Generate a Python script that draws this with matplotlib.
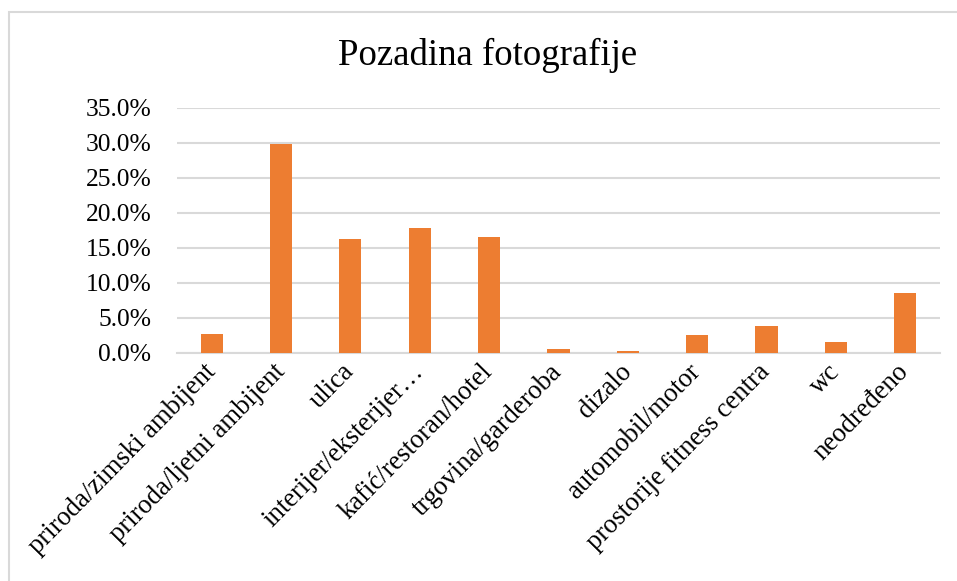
import matplotlib.pyplot as plt
from matplotlib.ticker import PercentFormatter
from matplotlib.patches import Rectangle

categories = ["priroda/zimski ambijent", "priroda/ljetni ambijent", "ulica",
              "interijer/eksterijer…", "kafić/restoran/hotel", "trgovina/garderoba",
              "dizalo", "automobil/motor", "prostorije fitness centra", "wc",
              "neodređeno"]
shares = [2.7, 29.8, 16.2, 17.8, 16.5, 0.5, 0.25, 2.5, 3.8, 1.5, 8.5]
y_ticks = [0, 5, 10, 15, 20, 25, 30, 35]

plt.rcParams["font.family"] = ["Liberation Serif", "DejaVu Serif"]

fig = plt.figure(figsize=(9.57, 5.81), dpi=100)
ax = fig.add_axes([0.185, 0.393, 0.797, 0.4215])

x = range(len(categories))
ax.bar(x, shares, width=0.32, color="#ED7D31", zorder=3)

ax.set_ylim(0, 35)
ax.set_xlim(-0.5, len(categories) - 0.5)
ax.set_yticks(y_ticks)
ax.yaxis.set_major_formatter(PercentFormatter(decimals=1))
ax.grid(axis="y", color="#D9D9D9", linewidth=1.5, zorder=0)
ax.tick_params(axis="y", length=0, pad=18.5, labelsize=18.4)
ax.tick_params(axis="x", length=0, pad=11)
ax.set_xticks(list(x))
ax.set_xticklabels(categories, rotation=45.5, ha="right", va="center",
                   rotation_mode="anchor", fontsize=19.2)
for side in ["top", "right", "left"]:
    ax.spines[side].set_visible(False)
ax.spines["bottom"].set_color("#D9D9D9")
ax.spines["bottom"].set_linewidth(1.5)

fig.text(488 / 957, 1 - 55 / 581, "Pozadina fotografije", ha="center",
         va="center", fontsize=26.5)

# chart area frame (only left and top visible in the crop)
fig.patches.append(Rectangle((9 / 957, -0.1), 1.2, 1 - 12 / 581 + 0.1,
                             transform=fig.transFigure, fill=False,
                             edgecolor="#D9D9D9", linewidth=1.5))

fig.savefig("out.png", dpi=100)
